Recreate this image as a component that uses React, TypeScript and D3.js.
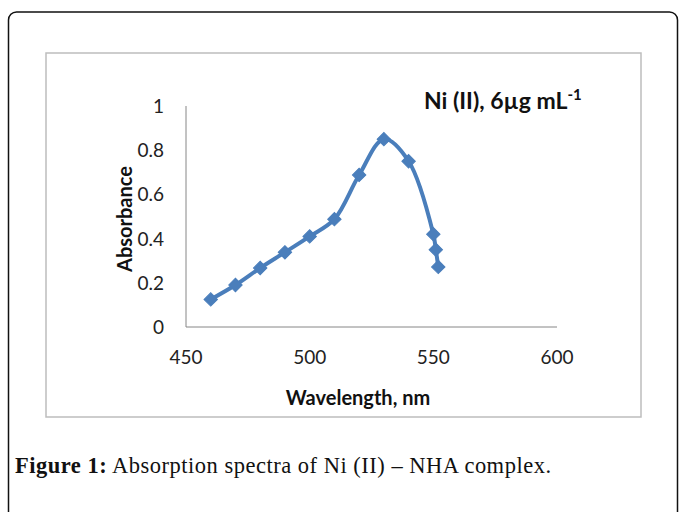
import React, { useRef, useEffect } from 'react';
import * as d3 from 'd3';

// absorbance readings, Ni (II) 6 ug/mL
const wavelengths = [460, 470, 480, 490, 500, 510, 520, 530, 540, 550, 551, 552];
const absorbance = [0.125, 0.19, 0.267, 0.338, 0.41, 0.488, 0.688, 0.85, 0.75, 0.42, 0.35, 0.272];
const xTicks = [450, 500, 550, 600];
const yTicks = [0, 0.2, 0.4, 0.6, 0.8, 1];

const chartTitle = 'Ni (II), 6µg mL';
const titleSup = '-1';
const xLabel = 'Wavelength, nm';
const yLabel = 'Absorbance';
const captionBold = 'Figure 1:';
const captionText = ' Absorption spectra of Ni (II) – NHA complex.';

const blue = '#4a7ebb';
const axisGray = '#868686';
const font = 'Lato, "Open Sans", sans-serif';

function App() {
  const svgRef = useRef<SVGSVGElement>(null);

  useEffect(() => {
    const svg = d3.select(svgRef.current);
    svg.selectAll('*').remove();

    // outer page frame
    svg.append('rect')
      .attr('x', 8.5).attr('y', 12).attr('width', 669).attr('height', 540)
      .attr('rx', 8)
      .attr('fill', 'white').attr('stroke', '#111').attr('stroke-width', 1.5);

    // chart area border
    svg.append('rect')
      .attr('x', 46).attr('y', 53).attr('width', 595).attr('height', 364)
      .attr('fill', 'white').attr('stroke', '#bdbdbd').attr('stroke-width', 1.5);

    const xScale = d3.scaleLinear().domain([450, 600]).range([186, 557]);
    const yScale = d3.scaleLinear().domain([0, 1]).range([327, 106]);

    // axes lines
    svg.append('line')
      .attr('x1', xScale(450)).attr('x2', xScale(600))
      .attr('y1', yScale(0)).attr('y2', yScale(0))
      .attr('stroke', axisGray).attr('stroke-width', 1);
    svg.append('line')
      .attr('x1', xScale(450)).attr('x2', xScale(450))
      .attr('y1', yScale(0)).attr('y2', yScale(1))
      .attr('stroke', axisGray).attr('stroke-width', 1);

    svg.selectAll('.xtick')
      .data(xTicks)
      .enter().append('text')
      .attr('class', 'xtick')
      .attr('x', d => xScale(d))
      .attr('y', 364)
      .attr('text-anchor', 'middle')
      .attr('font-family', font).attr('font-size', 19).attr('fill', '#222')
      .text(d => d);

    svg.selectAll('.ytick')
      .data(yTicks)
      .enter().append('text')
      .attr('class', 'ytick')
      .attr('x', 164)
      .attr('y', d => yScale(d) + 7)
      .attr('text-anchor', 'end')
      .attr('font-family', font).attr('font-size', 19).attr('fill', '#222')
      .text(d => d);

    // axis titles
    svg.append('text')
      .attr('x', 358).attr('y', 405)
      .attr('text-anchor', 'middle')
      .attr('font-family', font).attr('font-size', 20).attr('font-weight', 'bold').attr('fill', '#111')
      .text(xLabel);

    svg.append('text')
      .attr('transform', 'translate(132,219) rotate(-90)')
      .attr('text-anchor', 'middle')
      .attr('font-family', font).attr('font-size', 20).attr('font-weight', 'bold').attr('fill', '#111')
      .text(yLabel);

    // chart title with superscript
    const title = svg.append('text')
      .attr('x', 424).attr('y', 109)
      .attr('font-family', font).attr('font-size', 23).attr('font-weight', 'bold').attr('fill', '#111');
    title.append('tspan').text(chartTitle);
    title.append('tspan').attr('dy', -9).attr('font-size', 15).text(titleSup);

    // data line
    const points = wavelengths.map((w, i) => [w, absorbance[i]] as [number, number]);
    const line = d3.line<[number, number]>()
      .x(d => xScale(d[0]))
      .y(d => yScale(d[1]))
      .curve(d3.curveCatmullRom.alpha(0.5));

    svg.append('path')
      .datum(points)
      .attr('d', line)
      .attr('fill', 'none')
      .attr('stroke', blue)
      .attr('stroke-width', 4)
      .attr('stroke-linejoin', 'round');

    const diamond = d3.symbol().type(d3.symbolSquare).size(90);
    svg.selectAll('.marker')
      .data(points)
      .enter().append('path')
      .attr('class', 'marker')
      .attr('d', diamond)
      .attr('transform', d => `translate(${xScale(d[0])},${yScale(d[1])}) rotate(45)`)
      .attr('fill', blue)
      .attr('stroke', blue)
      .attr('stroke-width', 1);

    // figure caption
    const caption = svg.append('text')
      .attr('x', 15).attr('y', 473)
      .attr('font-family', '"Liberation Serif", "Times New Roman", serif')
      .attr('font-size', 22.5).attr('fill', '#111')
      .attr('textLength', 536).attr('lengthAdjust', 'spacing');
    caption.append('tspan').attr('font-weight', 'bold').text(captionBold);
    caption.append('tspan').text(captionText);
  }, []);

  return (
    <svg ref={svgRef} width={680} height={512}
      style={{ position: 'absolute', left: 0, top: 0, background: 'white' }}>
    </svg>
  );
}

export default App;
